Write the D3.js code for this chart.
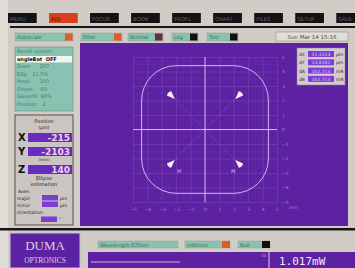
<!DOCTYPE html>
<html>
<head>
<meta charset="utf-8">
<script src="https://cdn.jsdelivr.net/npm/d3@7"></script>
<style>
  body { margin: 0; background: #d2ccc6; }
  svg { display: block; font-family: "DejaVu Sans", sans-serif; }
</style>
</head>
<body>
<svg id="chart" width="355" height="268"></svg>
<script>
// menu + toggles
const menuLabels = ["MENU", "ADJ", "FOCUS", "BOOK", "PROFL", "CHART", "FILES", "SETUP", "SAVE"];
const menuActive = "ADJ";
const toggleLabels = ["Autoscale", "Filter", "Normal", "Log", "Test"];
const toggleStates = ["on", "on", "mid", "off", "off"];
const dateText = "Sun Mar 14 15:16";

// left panel
const resultLabels = ["Result system", "angleBat  OFF", "Diam      267", "Ellip   11.5%", "Ampl      100", "Orient     60", "Gaussfit  98%", "Position    2"];
const positionLabels = ["X", "Y", "Z"];
const positionValues = ["-215", "-2103", "140"];

// plot
const xTicks = [-5, -4, -3, -2, -1, 0, 1, 2, 3, 4, 5];
const yTicks = [5, 4, 3, 2, 1, 0, -1, -2, -3, -4, -5];
const boundHalf = 4.4;     // half width of the rounded outline, mm
const boundCorner = 2.4;   // corner radius, mm
const arrowX = [-2.3, 2.3, -2.3, 2.3];
const arrowY = [2.3, 2.3, -2.3, -2.3];
const arrowText = ["", "", "M", "M"];

// right info box
const infoLabels = ["dX", "dY", "dA", "dB"];
const infoValues = ["11.3153", "13.8182", "102.713", "102.713"];
const infoUnits = ["µm", "µm", "mR", "mR"];

// bottom
const bottomButtons = ["Wavelength 670nm", "mW/rms", "Null"];
const bottomStates = ["none", "on", "off"];
const powerText = "1.017mW";

const svg = d3.select("#chart");
const purple = "#5c22a2";
const teal = "#88c2b0";
const stateColor = { on: "#e05a2c", mid: "#6a2a4a", off: "#111", none: null };

// light left strip
svg.append("rect").attr("x", 0).attr("y", 0).attr("width", 8).attr("height", 268).attr("fill", "#e0dcd6");

// ---- top menu ----
const menuScale = d3.scaleBand().domain(menuLabels).range([8, 365]).paddingInner(0.3);
const menu = svg.append("g").selectAll("g").data(menuLabels).join("g")
    .attr("transform", d => `translate(${menuScale(d)},13)`);
menu.append("rect")
    .attr("width", menuScale.bandwidth()).attr("height", 10)
    .attr("fill", d => d == menuActive ? "#d8401c" : "#141214");
menu.append("text")
    .attr("x", 2).attr("y", 7.5)
    .style("font-size", "5.3px")
    .attr("fill", d => d == menuActive ? "#501008" : "#6a6068")
    .text(d => d);

svg.append("rect").attr("x", 10).attr("y", 26).attr("width", 345).attr("height", 2).attr("fill", "#1a1618");

// ---- toggle row ----
const toggleX = [15, 81, 128, 172, 207];
const toggleW = [58, 41, 35, 26, 31];
const tog = svg.append("g").selectAll("g").data(toggleLabels).join("g")
    .attr("transform", (d, i) => `translate(${toggleX[i]},33)`);
tog.append("rect").attr("width", (d, i) => toggleW[i]).attr("height", 8)
    .attr("fill", teal).attr("stroke", "#9a9a96").attr("stroke-width", 0.5);
tog.append("rect").attr("x", (d, i) => toggleW[i] - 8).attr("y", 0.5).attr("width", 7.5).attr("height", 7)
    .attr("fill", (d, i) => stateColor[toggleStates[i]]);
tog.append("text").attr("x", 2).attr("y", 6).style("font-size", "5px").attr("fill", "#3e6a60").text(d => d);

svg.append("rect").attr("x", 276).attr("y", 32).attr("width", 72).attr("height", 9)
    .attr("fill", "#e2ddd6").attr("stroke", "#8a8480").attr("stroke-width", 0.5);
svg.append("text").attr("x", 312).attr("y", 39).attr("text-anchor", "middle")
    .style("font-size", "5.5px").attr("fill", "#504848").text(dateText);

// ---- plot area ----
svg.append("rect").attr("x", 80).attr("y", 43).attr("width", 268).attr("height", 183).attr("fill", purple);

const x = d3.scaleLinear().domain([-5, 5]).range([133, 277]);
const y = d3.scaleLinear().domain([-5, 5]).range([202, 57]);
const gridColor = "#b48ad6";

// grid through axes
svg.append("g").attr("transform", `translate(0,${y(-5)})`)
    .call(d3.axisBottom(x).tickValues(xTicks).tickSize(-(y(-5) - y(5))).tickFormat(""))
    .call(g => g.select(".domain").remove())
    .call(g => g.selectAll("line").attr("stroke", gridColor).attr("stroke-opacity", 0.32).attr("stroke-width", 0.6));
svg.append("g").attr("transform", `translate(${x(-5)},0)`)
    .call(d3.axisLeft(y).tickValues(yTicks).tickSize(-(x(5) - x(-5))).tickFormat(""))
    .call(g => g.select(".domain").remove())
    .call(g => g.selectAll("line").attr("stroke", gridColor).attr("stroke-opacity", 0.32).attr("stroke-width", 0.6));
// half-unit grid
const halfTicks = d3.range(-4.5, 5, 1);
svg.append("g").selectAll("line").data(halfTicks).join("line")
    .attr("x1", d => x(d)).attr("x2", d => x(d)).attr("y1", y(5)).attr("y2", y(-5))
    .attr("stroke", gridColor).attr("stroke-opacity", 0.12).attr("stroke-width", 0.5);
svg.append("g").selectAll("line").data(halfTicks).join("line")
    .attr("y1", d => y(d)).attr("y2", d => y(d)).attr("x1", x(-5)).attr("x2", x(5))
    .attr("stroke", gridColor).attr("stroke-opacity", 0.12).attr("stroke-width", 0.5);

// tick labels
svg.append("g").attr("transform", `translate(0,${y(-5) + 3})`)
    .call(d3.axisBottom(x).tickValues(xTicks).tickSize(0).tickFormat(d3.format("d")))
    .call(g => g.select(".domain").remove())
    .call(g => g.selectAll("text").attr("fill", "#a884cc").style("font-size", "4.5px").attr("font-family", "DejaVu Sans"));
svg.append("g").attr("transform", `translate(${x(5) + 2},0)`)
    .call(d3.axisRight(y).tickValues(yTicks).tickSize(0).tickFormat(d3.format("d")))
    .call(g => g.select(".domain").remove())
    .call(g => g.selectAll("text").attr("fill", "#a884cc").style("font-size", "4.5px").attr("font-family", "DejaVu Sans"));
svg.append("text").attr("x", x(5) + 12).attr("y", y(-5) + 7).style("font-size", "4.5px").attr("fill", "#a884cc").text("mm");

// centre axes
svg.append("line").attr("x1", x(-5)).attr("x2", x(5)).attr("y1", y(0)).attr("y2", y(0))
    .attr("stroke", "#d2aeea").attr("stroke-width", 1);
svg.append("line").attr("x1", x(0)).attr("x2", x(0)).attr("y1", y(5)).attr("y2", y(-5))
    .attr("stroke", "#d2aeea").attr("stroke-width", 1);

// rounded outline
const bw = x(boundHalf) - x(-boundHalf);
const bc = x(boundCorner) - x(0);
svg.append("rect")
    .attr("x", x(-boundHalf)).attr("y", y(boundHalf))
    .attr("width", bw).attr("height", y(-boundHalf) - y(boundHalf))
    .attr("rx", bc).attr("ry", bc)
    .attr("fill", "none").attr("stroke", "#d8b4ee").attr("stroke-width", 1);

// arrows
const arrows = arrowX.map((v, i) => ({ x: arrowX[i], y: arrowY[i], t: arrowText[i] }));
svg.append("g").selectAll("line").data(arrows).join("line")
    .attr("x1", d => x(d.x)).attr("y1", d => y(d.y)).attr("x2", x(0)).attr("y2", y(0))
    .attr("stroke", "#c9a2e4").attr("stroke-width", 0.5).attr("stroke-dasharray", "1.5,1.5").attr("stroke-opacity", 0.7);
const ag = svg.append("g").selectAll("g").data(arrows).join("g")
    .attr("transform", d => {
        const ang = Math.atan2(y(0) - y(d.y), x(0) - x(d.x)) * 180 / Math.PI;
        return `translate(${x(d.x)},${y(d.y)}) rotate(${ang})`;
    });
ag.append("path").attr("d", "M-4,-3 L4,0 L-4,3 Q-6,0 -4,-3 Z").attr("fill", "#fbf6ff");
svg.append("g").selectAll("text").data(arrows).join("text")
    .attr("x", d => x(d.x) + (d.x < 0 ? 5 : -7)).attr("y", d => y(d.y) + 10)
    .style("font-size", "5px").style("font-style", "italic").attr("fill", "#d4b0ea").text(d => d.t);

// info box
svg.append("rect").attr("x", 297).attr("y", 48).attr("width", 48).attr("height", 37)
    .attr("fill", "#d2ccd0").attr("stroke", "#8a8088").attr("stroke-width", 0.5);
const info = svg.append("g").selectAll("g").data(infoLabels).join("g")
    .attr("transform", (d, i) => `translate(299,${51 + i * 8.3})`);
info.append("text").attr("y", 5).style("font-size", "4.5px").attr("fill", "#302830").text(d => d);
info.append("rect").attr("x", 9).attr("width", 26).attr("height", 6).attr("fill", "#7a3ed0");
info.append("text").attr("x", 22).attr("y", 5).attr("text-anchor", "middle").style("font-size", "4.5px")
    .attr("fill", "#e6c8ff").text((d, i) => infoValues[i]);
info.append("text").attr("x", 37).attr("y", 5).style("font-size", "4.5px").attr("fill", "#302830").text((d, i) => infoUnits[i]);

// ---- left panel ----
svg.append("rect").attr("x", 15).attr("y", 47).attr("width", 58).attr("height", 64)
    .attr("fill", teal).attr("stroke", "#6c8c84").attr("stroke-width", 0.6);
svg.append("rect").attr("x", 16).attr("y", 56).attr("width", 56).attr("height", 6.5).attr("fill", "#f4f4f0");
svg.append("g").selectAll("text").data(resultLabels).join("text")
    .attr("x", 17).attr("y", (d, i) => 53 + i * 7.5)
    .style("font-size", "5px").attr("xml:space", "preserve")
    .attr("fill", (d, i) => i == 1 ? "#111" : "#4a7c70")
    .attr("font-weight", (d, i) => i == 1 ? "bold" : "normal")
    .text(d => d);

svg.append("rect").attr("x", 15).attr("y", 115).attr("width", 58).attr("height", 110)
    .attr("fill", "#cac4c2").attr("stroke", "#3a3436").attr("stroke-width", 0.8);
svg.append("text").attr("x", 44).attr("y", 123).attr("text-anchor", "middle").style("font-size", "5px").attr("fill", "#2a2426").text("Position");
svg.append("text").attr("x", 44).attr("y", 129).attr("text-anchor", "middle").style("font-size", "4.5px").attr("fill", "#2a2426").text("(µm)");
const posY = [137, 151, 169];
const pos = svg.append("g").selectAll("g").data(positionLabels).join("g")
    .attr("transform", (d, i) => `translate(18,${posY[i]})`);
pos.append("text").attr("y", 4).style("font-size", "10px").attr("font-weight", "bold").attr("fill", "#111").text(d => d);
pos.append("rect").attr("x", 10).attr("y", -4).attr("width", 44).attr("height", 9).attr("fill", "#6a2cc0");
pos.append("text").attr("x", 52).attr("y", 4).attr("text-anchor", "end").style("font-size", "9px").attr("font-weight", "bold")
    .attr("fill", "#f2d2e2").text((d, i) => positionValues[i]);
svg.append("text").attr("x", 44).attr("y", 161).attr("text-anchor", "middle").style("font-size", "4px").attr("fill", "#2a2426").text("(mm)");

const estLines = ["Ellipse", "estimation"];
svg.append("g").selectAll("text").data(estLines).join("text")
    .attr("x", 44).attr("y", (d, i) => 180 + i * 6).attr("text-anchor", "middle")
    .style("font-size", "5px").attr("fill", "#2a2426").text(d => d);
svg.append("text").attr("x", 18).attr("y", 193).style("font-size", "4.5px").attr("fill", "#2a2426").text("Axes:");
const axesRows = ["major", "minor"];
const ar = svg.append("g").selectAll("g").data(axesRows).join("g")
    .attr("transform", (d, i) => `translate(17,${200 + i * 6.5})`);
ar.append("text").style("font-size", "4.5px").attr("fill", "#2a2426").text(d => d);
ar.append("rect").attr("x", 25).attr("y", -5).attr("width", 16).attr("height", 5.5).attr("fill", "#7a3ed0");
ar.append("text").attr("x", 43).style("font-size", "4.5px").attr("fill", "#2a2426").text("µm");
svg.append("text").attr("x", 17).attr("y", 214).style("font-size", "4.5px").attr("fill", "#2a2426").text("Orientation:");
svg.append("rect").attr("x", 41).attr("y", 216.5).attr("width", 16).attr("height", 5.5).attr("fill", "#7a3ed0");
svg.append("text").attr("x", 59).attr("y", 221).style("font-size", "4.5px").attr("fill", "#2a2426").text("°");

// black rule
svg.append("rect").attr("x", 0).attr("y", 228).attr("width", 355).attr("height", 2.5).attr("fill", "#181416");

// DUMA logo
svg.append("rect").attr("x", 10).attr("y", 233).attr("width", 70).attr("height", 35)
    .attr("fill", "#5c22a4").attr("stroke", "#c8c0c8").attr("stroke-width", 1);
svg.append("text").attr("x", 45).attr("y", 250).attr("text-anchor", "middle")
    .attr("font-family", "Liberation Serif").style("font-size", "13px").attr("fill", "#e8c8dc").text("DUMA");
svg.append("text").attr("x", 45).attr("y", 263).attr("text-anchor", "middle")
    .attr("font-family", "Liberation Serif").style("font-size", "7.5px").attr("fill", "#e8c8dc").text("OPTRONICS");

// bottom buttons
const bx = [98, 185, 238];
const bwid = [80, 45, 32];
const bb = svg.append("g").selectAll("g").data(bottomButtons).join("g")
    .attr("transform", (d, i) => `translate(${bx[i]},241)`);
bb.append("rect").attr("width", (d, i) => bwid[i]).attr("height", 7).attr("fill", teal).attr("stroke", "#9a9a96").attr("stroke-width", 0.5);
bb.append("rect")
    .attr("x", (d, i) => bwid[i] - 8).attr("width", 8).attr("height", 7)
    .attr("fill", (d, i) => stateColor[bottomStates[i]] || "none");
bb.append("text").attr("x", 2).attr("y", 5.5).style("font-size", "5px").attr("fill", "#3e6a60").text(d => d);

// power bar
const power = d3.scaleLinear().domain([0, 10]).range([91, 266]);
svg.append("rect").attr("x", 88).attr("y", 252).attr("width", 184).attr("height", 16).attr("fill", purple);
svg.append("line").attr("x1", power(0)).attr("x2", power(5.1)).attr("y1", 262).attr("y2", 262)
    .attr("stroke", "#e4a8d8").attr("stroke-width", 1);
svg.append("text").attr("x", power(10)).attr("y", 257).attr("text-anchor", "end").style("font-size", "4px").attr("fill", "#c89ae0").text("10");
svg.append("line").attr("x1", 269).attr("x2", 269).attr("y1", 252).attr("y2", 268).attr("stroke", "#d8d0d8").attr("stroke-width", 1);
svg.append("rect").attr("x", 272).attr("y", 252).attr("width", 83).attr("height", 16).attr("fill", purple);
svg.append("text").attr("x", 279).attr("y", 265).attr("font-family", "DejaVu Sans Mono").style("font-size", "11px")
    .attr("fill", "#f2eaf4").text(powerText);
</script>
</body>
</html>
